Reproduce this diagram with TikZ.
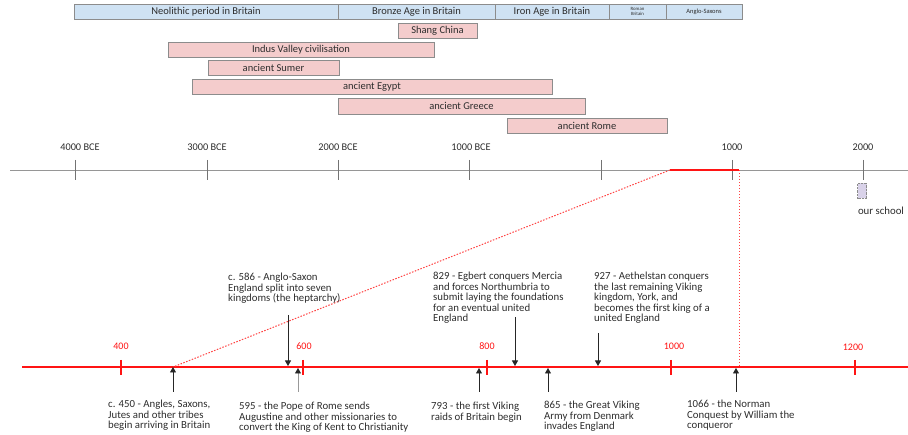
\documentclass[tikz,border=0pt]{standalone}
\usepackage{fontspec}
\setmainfont{Carlito}
\usetikzlibrary{arrows.meta,positioning}
\definecolor{tlblue}{RGB}{207,226,243}
\definecolor{tlpink}{RGB}{244,204,204}
\definecolor{tlgrey}{RGB}{140,140,140}
\definecolor{tlaxis}{RGB}{150,150,150}
\definecolor{tlred}{RGB}{255,20,20}
\definecolor{tllilac}{RGB}{217,210,233}
\definecolor{tltext}{RGB}{45,45,45}
\tikzset{
  bluebar/.style={draw=tlgrey,line width=0.8pt,fill=tlblue,minimum height=15pt,inner sep=0pt,
    text=tltext,font=\fontsize{10.5}{11}\selectfont},
  pinkbar/.style={draw=tlgrey,line width=0.8pt,fill=tlpink,minimum height=15pt,inner sep=0pt,
    text=tltext,font=\fontsize{10.5}{11}\selectfont},
  yearlbl/.style={text=tltext,font=\fontsize{10.3}{11}\selectfont},
  redlbl/.style={text=tlred,font=\fontsize{10}{11}\selectfont},
  event/.style={align=left,inner sep=0pt,anchor=north west,text=tltext,
    font=\fontsize{10.8}{10.5}\selectfont},
  evarrow/.style={-{Triangle[length=5.5pt,width=6pt,color=black!85]},line width=0.9pt,black!85},
  zoomline/.style={draw=tlred!80,dash pattern=on 1.5pt off 1.5pt,line width=1pt}
}
\begin{document}
\begin{tikzpicture}[x=1pt,y=-1pt]
  \useasboundingbox (0,0) rectangle (908,435);
  % Periods in Britain
  \node[bluebar,minimum width=264pt] (neolithic) at (206,11.5) {Neolithic period in Britain};
  \node[bluebar,minimum width=157pt] (bronze) at (416.5,11.5) {Bronze Age in Britain};
  \node[bluebar,minimum width=114pt] (iron) at (552,11.5) {Iron Age in Britain};
  \node[bluebar,minimum width=57pt,align=center,font=\fontsize{4.8}{5.2}\selectfont] (roman) at (637.5,11.5) {Roman\\Britain};
  \node[bluebar,minimum width=76pt,font=\fontsize{6.5}{7}\selectfont] (anglo) at (704,11.5) {Anglo-Saxons};
  % Other civilisations
  \node[pinkbar,minimum width=79pt] (shang) at (437.5,30.5) {Shang China};
  \node[pinkbar,minimum width=266pt] (indus) at (301,49.5) {Indus Valley civilisation};
  \node[pinkbar,minimum width=131pt] (sumer) at (273.5,67.5) {ancient Sumer};
  \node[pinkbar,minimum width=360pt] (egypt) at (372,86.5) {ancient Egypt};
  \node[pinkbar,minimum width=247pt,minimum height=16pt] (greece) at (461.5,106) {ancient Greece};
  \node[pinkbar,minimum width=160pt] (rome) at (587,125.5) {ancient Rome};

  % Long timeline
  \coordinate (topL) at (10,170);
  \coordinate (topR) at (908,170);
  \draw[tlaxis,line width=0.8pt] (topL) -- (topR);
  \draw[black!55,line width=1pt] (75,160) -- (75,180) (207,160) -- (207,180)
    (338,160) -- (338,180) (469,160) -- (469,180) (601,160) -- (601,180)
    (732,160) -- (732,180) (863,160) -- (863,180);
  \node[yearlbl] (bce4) at (80,147) {4000 BCE};
  \node[yearlbl] (bce3) at (207,147) {3000 BCE};
  \node[yearlbl] (bce2) at (338,147) {2000 BCE};
  \node[yearlbl] (bce1) at (471,147) {1000 BCE};
  \node[yearlbl] (ce1) at (732,147) {1000};
  \node[yearlbl] (ce2) at (863,147) {2000};
  % Our school
  \node[draw=tlgrey,densely dotted,fill=tllilac,minimum width=9pt,minimum height=15pt,inner sep=0pt] (school) at (862,191) {};
  \node[yearlbl,font=\fontsize{10.8}{11}\selectfont] (schoollbl) at (881,211) {our school};

  % Zoomed range
  \coordinate (zoomA) at (670,170);
  \coordinate (zoomM) at (702,170);
  \coordinate (zoomB) at (739,170);
  \draw[tlred,line width=1.2pt] (zoomA) -- (zoomM);
  \draw[tlred,line width=1.8pt] (zoomM) -- (zoomB);

  % Zoomed timeline
  \coordinate (lowL) at (22,367);
  \coordinate (lowR) at (908,367);
  \draw[tlred,line width=1.3pt] (lowL) -- (lowR);
  \draw[tlred,line width=1.3pt] (121,360) -- (121,375) (303,360) -- (303,375)
    (487,360) -- (487,375) (671,360) -- (671,375) (855,360) -- (855,375);
  \node[redlbl] (y400) at (121,346) {400};
  \node[redlbl] (y600) at (304,346) {600};
  \node[redlbl] (y800) at (487,346) {800};
  \node[redlbl] (y1000) at (674,346) {1000};
  \node[redlbl] (y1200) at (853,347) {1200};

  % Event points on the timeline
  \coordinate (p450) at (173,367);
  \coordinate (p586) at (288,366);
  \coordinate (p595) at (298,368);
  \coordinate (p793) at (479,368);
  \coordinate (p829) at (515,366);
  \coordinate (p865) at (548,368);
  \coordinate (p927) at (598,366);
  \coordinate (p1066) at (736,368);
  \coordinate (zoomC) at (739,367);
  \draw[zoomline] (zoomA) -- (p450);
  \draw[zoomline] (zoomB) -- (zoomC);

  % Events above
  \node[event] (e586) at (228,273) {c. 586 - Anglo-Saxon\\England split into seven\\kingdoms (the heptarchy)};
  \node[event] (e829) at (433,272) {829 - Egbert conquers Mercia\\and forces Northumbria to\\submit laying the foundations\\for an eventual united\\England};
  \node[event] (e927) at (594,272) {927 - Aethelstan conquers\\the last remaining Viking\\kingdom, York, and\\becomes the first king of a\\united England};
  \coordinate (s586) at (288,315);
  \coordinate (s829) at (515,317);
  \coordinate (s927) at (598,333);
  \draw[evarrow] (s586) -- (p586);
  \draw[evarrow] (s829) -- (p829);
  \draw[evarrow] (s927) -- (p927);

  % Events below
  \node[event] (e450) at (108,400) {c. 450 - Angles, Saxons,\\Jutes and other tribes\\begin arriving in Britain};
  \node[event] (e595) at (239,402) {595 - the Pope of Rome sends\\Augustine and other missionaries to\\convert the King of Kent to Christianity};
  \node[event] (e793) at (431,402) {793 - the first Viking\\raids of Britain begin};
  \node[event] (e865) at (544,401) {865 - the Great Viking\\Army from Denmark\\invades England};
  \node[event] (e1066) at (687,400) {1066 - the Norman\\Conquest by William the\\conqueror};
  \coordinate (s450) at (173,392);
  \coordinate (s595) at (298,392);
  \coordinate (s793) at (479,392);
  \coordinate (s865) at (548,392);
  \coordinate (s1066) at (736,392);
  \draw[evarrow] (s450) -- (p450);
  \draw[evarrow,draw=black!40] (s595) -- (p595);
  \draw[evarrow] (s793) -- (p793);
  \draw[evarrow] (s865) -- (p865);
  \draw[evarrow] (s1066) -- (p1066);
\end{tikzpicture}
\end{document}
